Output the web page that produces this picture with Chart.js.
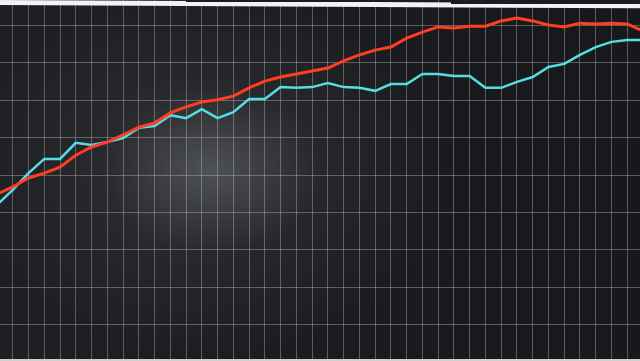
<!DOCTYPE html>
<html>
<head>
<meta charset="utf-8">
<script src="https://cdn.jsdelivr.net/npm/chart.js@4/dist/chart.umd.min.js"></script>
<style>
  html, body { margin: 0; padding: 0; }
  body {
    width: 640px; height: 361px; overflow: hidden; position: relative;
    background:
      radial-gradient(ellipse 240px 190px at 210px 170px, rgba(110,113,118,0.62), rgba(62,64,68,0.32) 45%, rgba(0,0,0,0) 100%),
      linear-gradient(90deg, #1d1f22, #17181b);
  }
  #wrap { position: absolute; left: -3px; top: -12px; width: 646px; height: 374px; }
  .bezel { position: absolute; background: #f2f2f2; }
  .dark { position: absolute; background: #1a1c1f; }
</style>
</head>
<body>
<div id="wrap"><canvas id="chart"></canvas></div>
<div class="bezel" style="left:0;top:0;width:640px;height:4.5px;transform:rotate(0.3deg);transform-origin:0 0;"></div>
<div class="dark" style="left:186px;top:0;width:251px;height:1.5px;"></div>
<div class="dark" style="left:451px;top:0;width:189px;height:4px;"></div>
<div class="bezel" style="left:0;top:359px;width:640px;height:2px;background:#cfcfcf;"></div>
<script>
// one sample per vertical grid line
const steps = Array.from({ length: 42 }, (_, i) => i);

const redSeries = [
  4.49, 4.68, 4.92, 5.05, 5.21, 5.53, 5.75, 5.88, 6.07, 6.28,
  6.39, 6.66, 6.82, 6.95, 7.01, 7.11, 7.33, 7.51, 7.62, 7.70,
  7.78, 7.86, 8.05, 8.21, 8.34, 8.42, 8.66, 8.82, 8.96, 8.93,
  8.98, 8.98, 9.12, 9.20, 9.12, 9.01, 8.96, 9.06, 9.04, 9.06,
  9.04, 8.85
];

const cyanSeries = [
  4.20, 4.60, 5.05, 5.43, 5.43, 5.86, 5.80, 5.88, 5.99, 6.26,
  6.31, 6.60, 6.52, 6.76, 6.52, 6.68, 7.03, 7.03, 7.35, 7.33,
  7.35, 7.46, 7.35, 7.33, 7.25, 7.43, 7.43, 7.70, 7.70, 7.65,
  7.65, 7.33, 7.33, 7.49, 7.62, 7.89, 7.97, 8.21, 8.42, 8.56,
  8.61, 8.61
];

const yTicks = [0, 1, 2, 3, 4, 5, 6, 7, 8, 9, 10];

const gridColor = 'rgba(205, 208, 212, 0.36)';

new Chart(document.getElementById('chart'), {
  type: 'line',
  data: {
    labels: steps,
    datasets: [
      {
        data: redSeries,
        borderColor: '#ff3d22',
        borderWidth: 3,
        pointRadius: 0,
        tension: 0
      },
      {
        data: cyanSeries,
        borderColor: '#55dde6',
        borderWidth: 2.5,
        pointRadius: 0,
        tension: 0
      }
    ]
  },
  options: {
    responsive: true,
    maintainAspectRatio: false,
    animation: false,
    layout: { padding: 0 },
    plugins: { legend: { display: false }, tooltip: { enabled: false } },
    scales: {
      x: {
        offset: false,
        grid: { color: gridColor, lineWidth: 1, drawTicks: false },
        border: { display: false },
        ticks: { display: false }
      },
      y: {
        min: yTicks[0],
        max: yTicks[yTicks.length - 1],
        afterBuildTicks: (axis) => { axis.ticks = yTicks.map(v => ({ value: v })); },
        grid: { color: gridColor, lineWidth: 1, drawTicks: false },
        border: { display: false },
        ticks: { display: false }
      }
    }
  }
});
</script>
</body>
</html>
